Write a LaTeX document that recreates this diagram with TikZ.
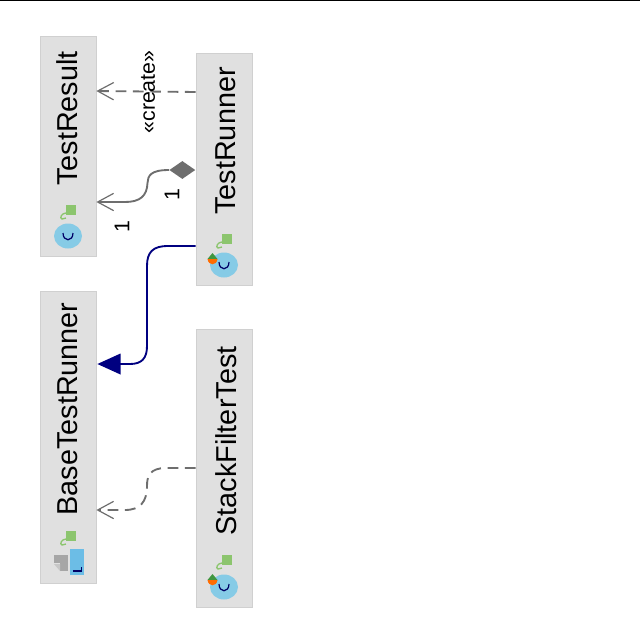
\documentclass[tikz,border=0pt]{standalone}
\usepackage{fontspec}
\setmainfont{Liberation Sans}
\usetikzlibrary{arrows.meta,shapes.geometric}
\definecolor{boxfill}{HTML}{E0E0E0}
\definecolor{boxline}{HTML}{D0D0D0}
\definecolor{edgegray}{HTML}{6E6E6E}
\definecolor{navyedge}{HTML}{000080}
\definecolor{cblue}{HTML}{86CBE6}
\definecolor{leaf}{HTML}{8CC56E}
\definecolor{jblue}{HTML}{6CBDE6}
\tikzset{
 x=0.75pt,y=-0.75pt,
 classbox/.style={draw=boxline,fill=boxfill,line width=0.6pt,inner sep=0pt,minimum width=42pt},
 classname/.style={rotate=90,inner sep=0pt,font=\fontsize{21.6pt}{24pt}\selectfont,text=black},
 edgelabel/.style={rotate=90,inner sep=0pt,font=\fontsize{16pt}{18pt}\selectfont,text=black},
 openhead/.style={-{Straight Barb[length=12pt,width=13pt,line width=0.9pt]}},
 umledge/.style={draw=edgegray,line width=1.4pt},
 dashededge/.style={umledge,dash pattern=on 8pt off 5pt},
}
\newcommand{\hookicon}[2]{%
 \fill[leaf] (#1-5,#2-5) rectangle (#1+5,#2+5);
 \draw[leaf,line width=1pt] (#1-5,#2+3) .. controls (#1-9,#2+3) and (#1-12,#2+8) .. (#1-9,#2+9) -- (#1-5,#2+8);
}
\newcommand{\classicon}[2]{%
 \fill[cblue] (#1,#2) ellipse [x radius=14,y radius=12.5];
 \draw[black!60!blue,line width=0.9pt] (#1-5,#2-3) .. controls (#1-5,#2+6) and (#1+5,#2+6) .. (#1+5,#2-3);
}
\newcommand{\runicon}[2]{%
 \fill[green!45!black!75] (#1,#2-6) -- (#1+5,#2) -- (#1-5,#2) -- cycle;
 \fill[orange!85!red] (#1-5,#2) .. controls (#1-4,#2+7) and (#1+4,#2+7) .. (#1+5,#2) -- cycle;
}
\begin{document}
\begin{tikzpicture}
\useasboundingbox (0,0) rectangle (640,640);
\fill[white] (0,0) rectangle (640,640);
\draw[black,line width=1pt] (0,0.5) -- (640,0.5);
% class boxes
\node[classbox,minimum height=165pt] (result) at (68,146) {};
\node[classbox,minimum height=174pt] (runner) at (224,169) {};
\node[classbox,minimum height=219pt] (base) at (68,437) {};
\node[classbox,minimum height=208.5pt] (stack) at (224,468) {};
% names
\node[classname] (resultname) at (67.5,118.5) {TestResult};
\node[classname] (runnername) at (226,141) {TestRunner};
\node[classname] (basename) at (67.5,409) {BaseTestRunner};
\node[classname] (stackname) at (226,441) {StackFilterTest};
% icons
\classicon{68}{236}
\hookicon{71}{210}
\classicon{224}{265}
\hookicon{227}{239}
\runicon{212.5}{259}
\classicon{224}{587}
\hookicon{227}{560}
\runicon{212.5}{580}
\hookicon{71}{536}
\fill[jblue] (70,549) rectangle (84,575);
\draw[black!60!blue,line width=0.9pt] (73,571) -- (81.5,571) -- (81.5,567);
\fill[black!35] (54,555) rectangle (68,563);
\fill[black!35] (60,563) rectangle (68,571);
\fill[black!22] (54,564) -- (60,571) -- (60,564) -- cycle;
% connector ends
\coordinate (createfrom) at (runner.west |- 0,92);
\coordinate (createto) at (result.east |- 0,91);
\coordinate (ownerend) at (runner.west |- 0,170);
\coordinate (ownedto) at (result.east |- 0,202);
\coordinate (inhfrom) at (runner.west |- 0,246);
\coordinate (inhto) at (base.east |- 0,364);
\coordinate (usefrom) at (stack.west |- 0,468);
\coordinate (useto) at (base.east |- 0,510);
% connectors
\draw[dashededge,openhead] (createfrom) -- (createto);
\node[diamond,aspect=1.4,fill=edgegray,inner sep=0pt,minimum width=19.5pt,minimum height=13.5pt,anchor=east] (own) at (ownerend) {};
\draw[umledge,openhead] (own.west) .. controls (150,170) and (148,176) .. (147.5,183) .. controls (147,196) and (140,202) .. (125,202) -- (ownedto);
\draw[draw=navyedge,line width=1.4pt] (inhfrom) -- (168,246) .. controls (153,246) and (147,252) .. (147,266) -- (147,346) .. controls (147,358) and (142,364) .. (130,364) -- (118,364);
\fill[navyedge] (inhto) ++(1,0) -- (120.5,353.5) -- (120.5,374.5) -- cycle;
\draw[dashededge,openhead] (usefrom) -- (166,468) .. controls (150,468) and (147,476) .. (147,486) .. controls (147,502) and (140,510) .. (125,510) -- (useto);
% labels
\node[edgelabel] (createlabel) at (148,92) {«create»};
\node[edgelabel] (labelone) at (122,227) {1};
\node[edgelabel] (labeltwo) at (172,195) {1};
\end{tikzpicture}
\end{document}
